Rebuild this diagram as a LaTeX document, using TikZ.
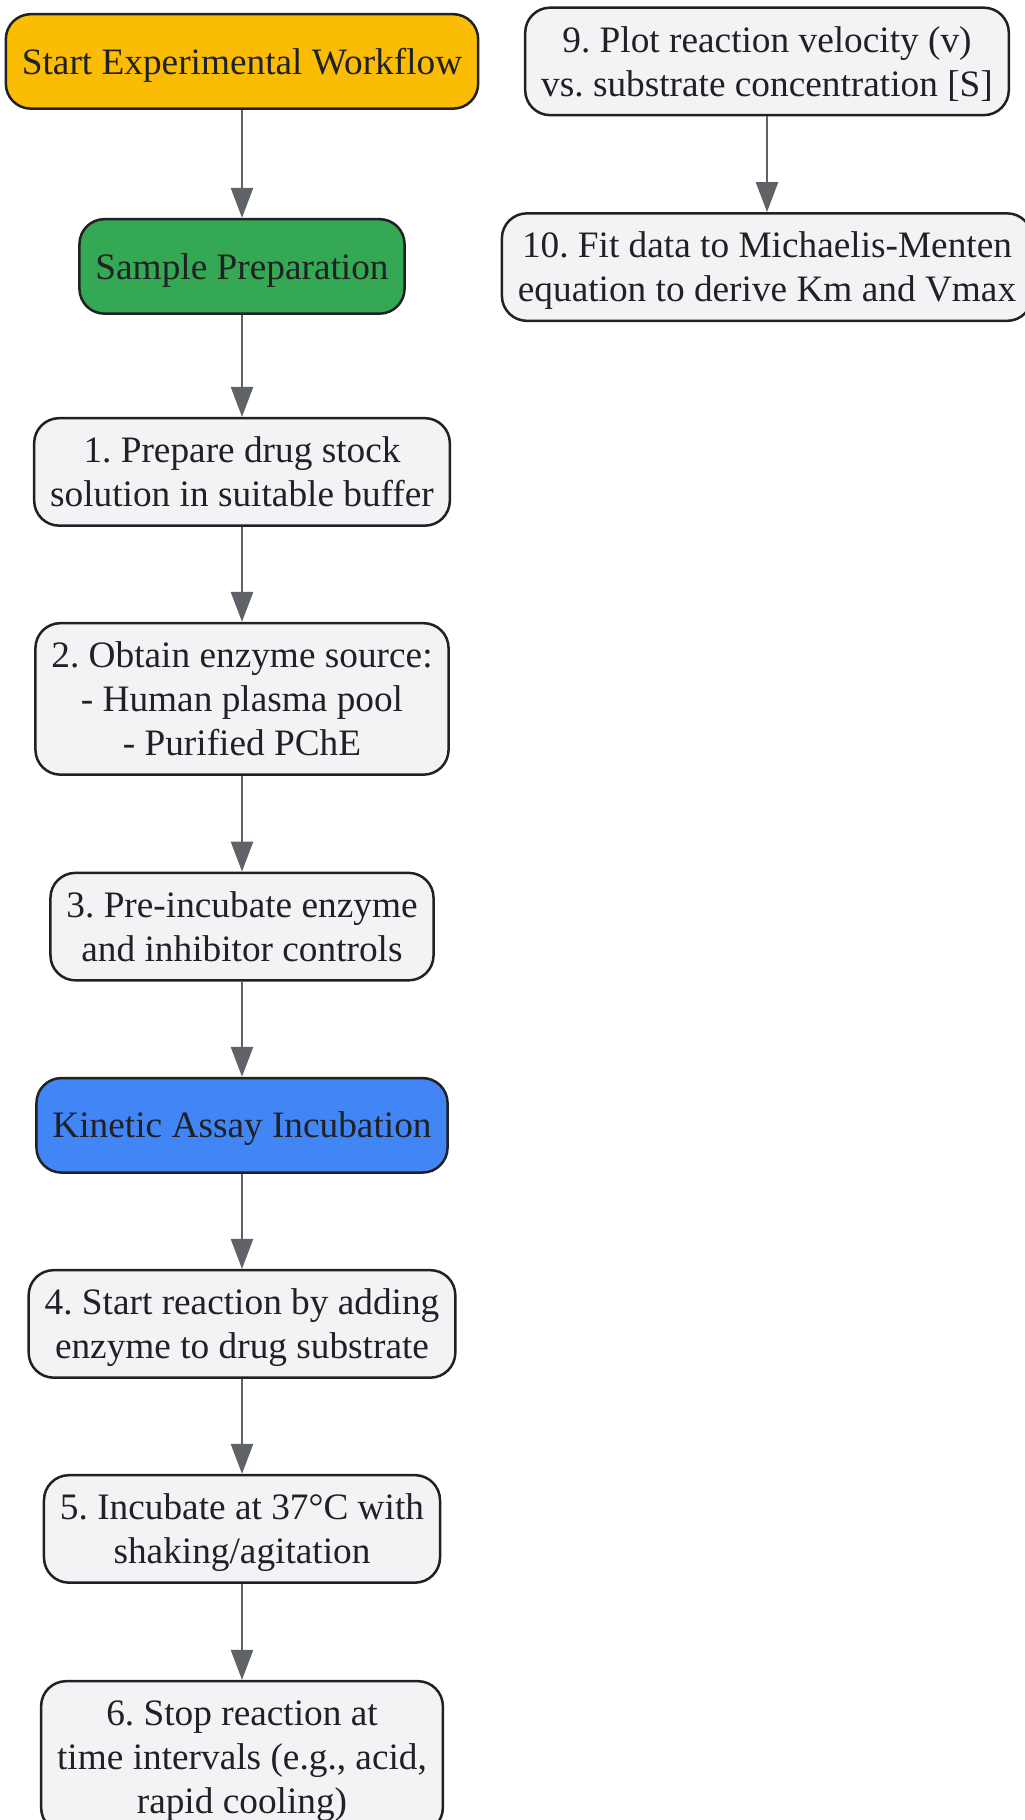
\documentclass[tikz,border=0pt]{standalone}
\usepackage{fontspec}
\setmainfont{Liberation Serif}
\usepackage{tikz}
\usetikzlibrary{arrows.meta, positioning}
\definecolor{startYellow}{HTML}{FBBC04}
\definecolor{prepGreen}{HTML}{34A853}
\definecolor{assayBlue}{HTML}{4285F4}
\definecolor{taskGrey}{HTML}{F1F3F4}
\definecolor{edgeDark}{HTML}{202124}
\definecolor{arrowGrey}{HTML}{5F6368}
\tikzstyle{box} = [rectangle, rounded corners=25pt, draw=edgeDark, line width=2.5pt,
    text=edgeDark, align=center, inner xsep=16pt, inner ysep=2pt,
    font=\fontsize{37.3pt}{44pt}\selectfont\frenchspacing, text depth=9.4pt]
\tikzstyle{starter} = [box, fill=startYellow]
\tikzstyle{prepphase} = [box, fill=prepGreen]
\tikzstyle{assayphase} = [box, fill=assayBlue]
\tikzstyle{task} = [box, fill=taskGrey]
\tikzstyle{line} = [draw=arrowGrey, line width=2.5pt, -{Triangle[length=30pt, width=22pt]}]

\begin{document}
\begin{tikzpicture}[x=1pt, y=1pt, auto,
    oneLine/.style={minimum height=94.5pt, text height=34.6pt},
    twoLines/.style={minimum height=107.5pt, text height=78.6pt},
    threeLines/.style={minimum height=151.5pt, text height=122.6pt}
    ]
    \useasboundingbox (0,0) rectangle (1025,-1820);
    \clip (0,0) rectangle (1025,-1820);
    % Left column
    \node [starter, oneLine] at (242,-61.4) (start) {Start Experimental Workflow};
    \node [prepphase, oneLine, below of=start, node distance=205pt] (sample) {Sample Preparation};
    \node [task, twoLines, below of=sample, node distance=205.5pt] (prep)
          {1. Prepare drug stock\\solution in suitable buffer};
    \node [task, threeLines, below of=prep, node distance=227pt] (enzyme)
          {2. Obtain enzyme source:\\- Human plasma pool\\- Purified PChE};
    \node [task, twoLines, below of=enzyme, node distance=227.7pt] (preinc)
          {3. Pre-incubate enzyme\\and inhibitor controls};
    \node [assayphase, oneLine, below of=preinc, node distance=198.7pt] (kinetic) {Kinetic Assay Incubation};
    \node [task, twoLines, below of=kinetic, node distance=198.6pt] (react)
          {4. Start reaction by adding\\enzyme to drug substrate};
    \node [task, twoLines, below of=react, node distance=205pt] (incub)
          {5. Incubate at 37°C with\\shaking/agitation};
    \node [task, threeLines, below of=incub, node distance=228pt] (stop)
          {6. Stop reaction at\\time intervals (e.g., acid,\\rapid cooling)};

    % Right column
    \node [task, twoLines, right of=start, node distance=525pt] (plot)
          {9. Plot reaction velocity (v)\\vs. substrate concentration [S]};
    \node [task, twoLines, below of=plot, node distance=205.7pt] (fit)
          {10. Fit data to Michaelis-Menten\\equation to derive Km and Vmax};

    % Edges
    \path [line] (start) -- (sample);
    \path [line] (sample) -- (prep);
    \path [line] (prep) -- (enzyme);
    \path [line] (enzyme) -- (preinc);
    \path [line] (preinc) -- (kinetic);
    \path [line] (kinetic) -- (react);
    \path [line] (react) -- (incub);
    \path [line] (incub) -- (stop);
    \path [line] (plot) -- (fit);
\end{tikzpicture}
\end{document}
